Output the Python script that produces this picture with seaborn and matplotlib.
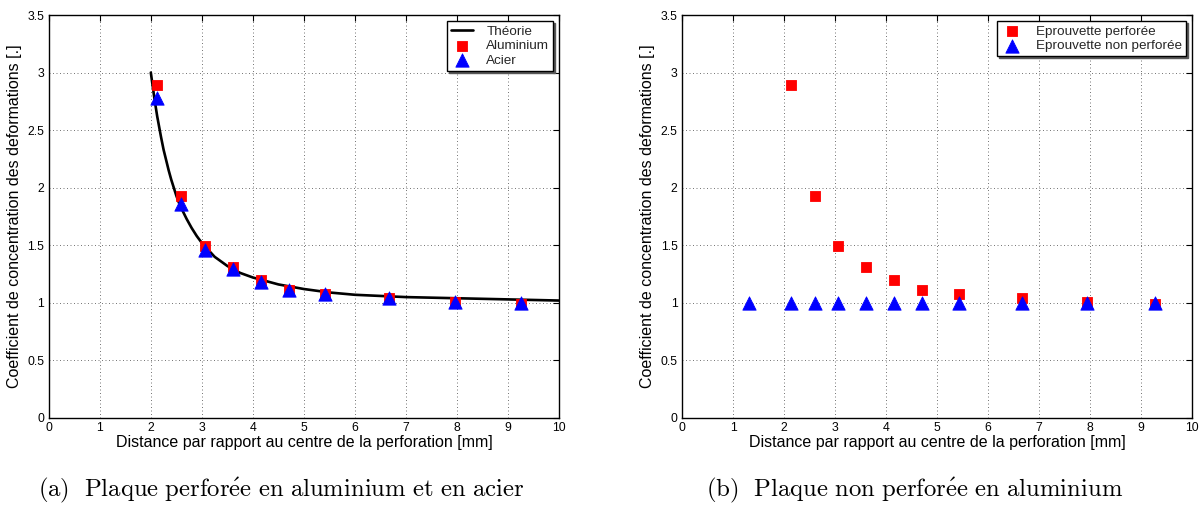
import matplotlib
matplotlib.use("Agg")
import matplotlib.pyplot as plt
import seaborn as sns

# ---------------- data ----------------
theory_x = [2.0, 2.025, 2.05, 2.075, 2.1, 2.125, 2.15, 2.175, 2.2, 2.25, 2.3, 2.35, 2.4,
            2.45, 2.5, 2.55, 2.6, 2.7, 2.8, 2.9, 3.0, 3.25, 3.5, 3.75, 4.0, 4.5, 5.0,
            5.5, 6.0, 7.0, 8.0, 9.0, 10.0]
theory_y = [3.00, 2.92, 2.84, 2.76, 2.69, 2.62, 2.56, 2.50, 2.44, 2.33, 2.24, 2.15, 2.07,
            2.00, 1.93, 1.87, 1.82, 1.73, 1.65, 1.58, 1.52, 1.40, 1.32, 1.26, 1.22, 1.16, 1.12,
            1.09, 1.07, 1.05, 1.04, 1.03, 1.02]

dist_x = [2.13, 2.60, 3.06, 3.60, 4.16, 4.71, 5.41, 6.67, 7.95, 9.25]
alu_y = [2.89, 1.93, 1.49, 1.31, 1.20, 1.11, 1.08, 1.04, 1.01, 0.99]
acier_y = [2.78, 1.86, 1.46, 1.29, 1.18, 1.11, 1.08, 1.04, 1.01, 1.00]

perf_x = [2.14, 2.60, 3.06, 3.61, 4.16, 4.71, 5.42, 6.67, 7.94, 9.26]
perf_y = [2.89, 1.93, 1.49, 1.31, 1.20, 1.11, 1.08, 1.04, 1.01, 0.99]
nonperf_x = [1.32, 2.14, 2.60, 3.06, 3.61, 4.16, 4.71, 5.42, 6.67, 7.94, 9.26]
nonperf_y = [1.00, 1.00, 1.00, 1.00, 1.00, 1.00, 1.00, 1.00, 1.00, 1.00, 1.00]

xticks = [0, 1, 2, 3, 4, 5, 6, 7, 8, 9, 10]
yticks = [0, 0.5, 1, 1.5, 2, 2.5, 3, 3.5]
ytick_labels = ["0", "0.5", "1", "1.5", "2", "2.5", "3", "3.5"]

xlabel = "Distance par rapport au centre de la perforation [mm]"
ylabel = "Coefficient de concentration des deformations [.]"
caption_a = r"$\mathrm{(a)\ \ Plaque\ perfor\acute{e}e\ en\ aluminium\ et\ en\ acier}$"
caption_b = r"$\mathrm{(b)\ \ Plaque\ non\ perfor\acute{e}e\ en\ aluminium}$"

# ---------------- style ----------------
sns.set_theme(style="white")
plt.rcParams["font.family"] = ["Liberation Sans", "DejaVu Sans"]
plt.rcParams["mathtext.fontset"] = "cm"

W, H = 1202, 507
fig = plt.figure(figsize=(W / 100, H / 100), dpi=100)
fig.patch.set_facecolor("white")

def px_axes(left, right, top, bottom):
    return [left / W, 1 - bottom / H, (right - left) / W, (bottom - top) / H]

ax1 = fig.add_axes(px_axes(48.7, 559.3, 15, 418))
ax2 = fig.add_axes(px_axes(682, 1192.3, 15, 418))

SQ = 58
TR = 92

# left panel
sns.lineplot(x=theory_x, y=theory_y, color="black", linewidth=1.9, sort=False,
             label="Théorie", ax=ax1, zorder=3)
sns.scatterplot(x=dist_x, y=alu_y, marker="s", s=SQ, color="#ff0000",
                edgecolor="#ff0000", linewidth=0.6, label="Aluminium", ax=ax1, zorder=4)
sns.scatterplot(x=dist_x, y=acier_y, marker="^", s=TR, color="#0000ff",
                edgecolor="#0000ff", linewidth=0.6, label="Acier", ax=ax1, zorder=5)

# right panel
sns.scatterplot(x=perf_x, y=perf_y, marker="s", s=SQ, color="#ff0000",
                edgecolor="#ff0000", linewidth=0.6, label="Eprouvette perforée", ax=ax2, zorder=4)
sns.scatterplot(x=nonperf_x, y=nonperf_y, marker="^", s=TR, color="#0000ff",
                edgecolor="#0000ff", linewidth=0.6, label="Eprouvette non perforée", ax=ax2, zorder=5)

for ax in (ax1, ax2):
    ax.set_xlim(0, 10)
    ax.set_ylim(0, 3.5)
    ax.set_xticks(xticks)
    ax.set_xticklabels([str(t) for t in xticks])
    ax.set_yticks(yticks)
    ax.set_yticklabels(ytick_labels)
    ax.tick_params(direction="in", length=4, width=0.8, top=True, right=True,
                   labelsize=8.8, colors="black", pad=3.2)
    ax.set_axisbelow(True)
    ax.grid(True, linestyle=(0, (1, 2.6)), color="0.45", linewidth=0.7)
    for sp in ax.spines.values():
        sp.set_color("black")
        sp.set_linewidth(1.0)
    ax.set_xlabel(xlabel, fontsize=11.5, color="black")
    ax.set_ylabel(ylabel, fontsize=11.5, color="black")
    ax.xaxis.set_label_coords(0.5, -0.042)
    ax.xaxis.label.set_va("top")
    ax.yaxis.set_label_coords(-0.052, 0.5)
    h, l = ax.get_legend_handles_labels()
    leg = ax.legend(h, l, loc="upper right", fontsize=9.7, frameon=True, fancybox=False,
                    framealpha=1, edgecolor="black", borderpad=0.3, labelspacing=0.17,
                    handlelength=1.6, handletextpad=1.0, borderaxespad=0.45,
                    scatterpoints=1, shadow={"ox": 1.2, "oy": -1.2, "color": "0.35", "alpha": 1})
    leg.get_frame().set_linewidth(1.0)

fig.text(281.6 / W, 1 - 490 / H, caption_a, ha="center", va="center",
         fontsize=17.8, color="black")
fig.text(915 / W, 1 - 490 / H, caption_b, ha="center", va="center",
         fontsize=17.8, color="black")

fig.savefig("out.png", dpi=100, facecolor="white")
